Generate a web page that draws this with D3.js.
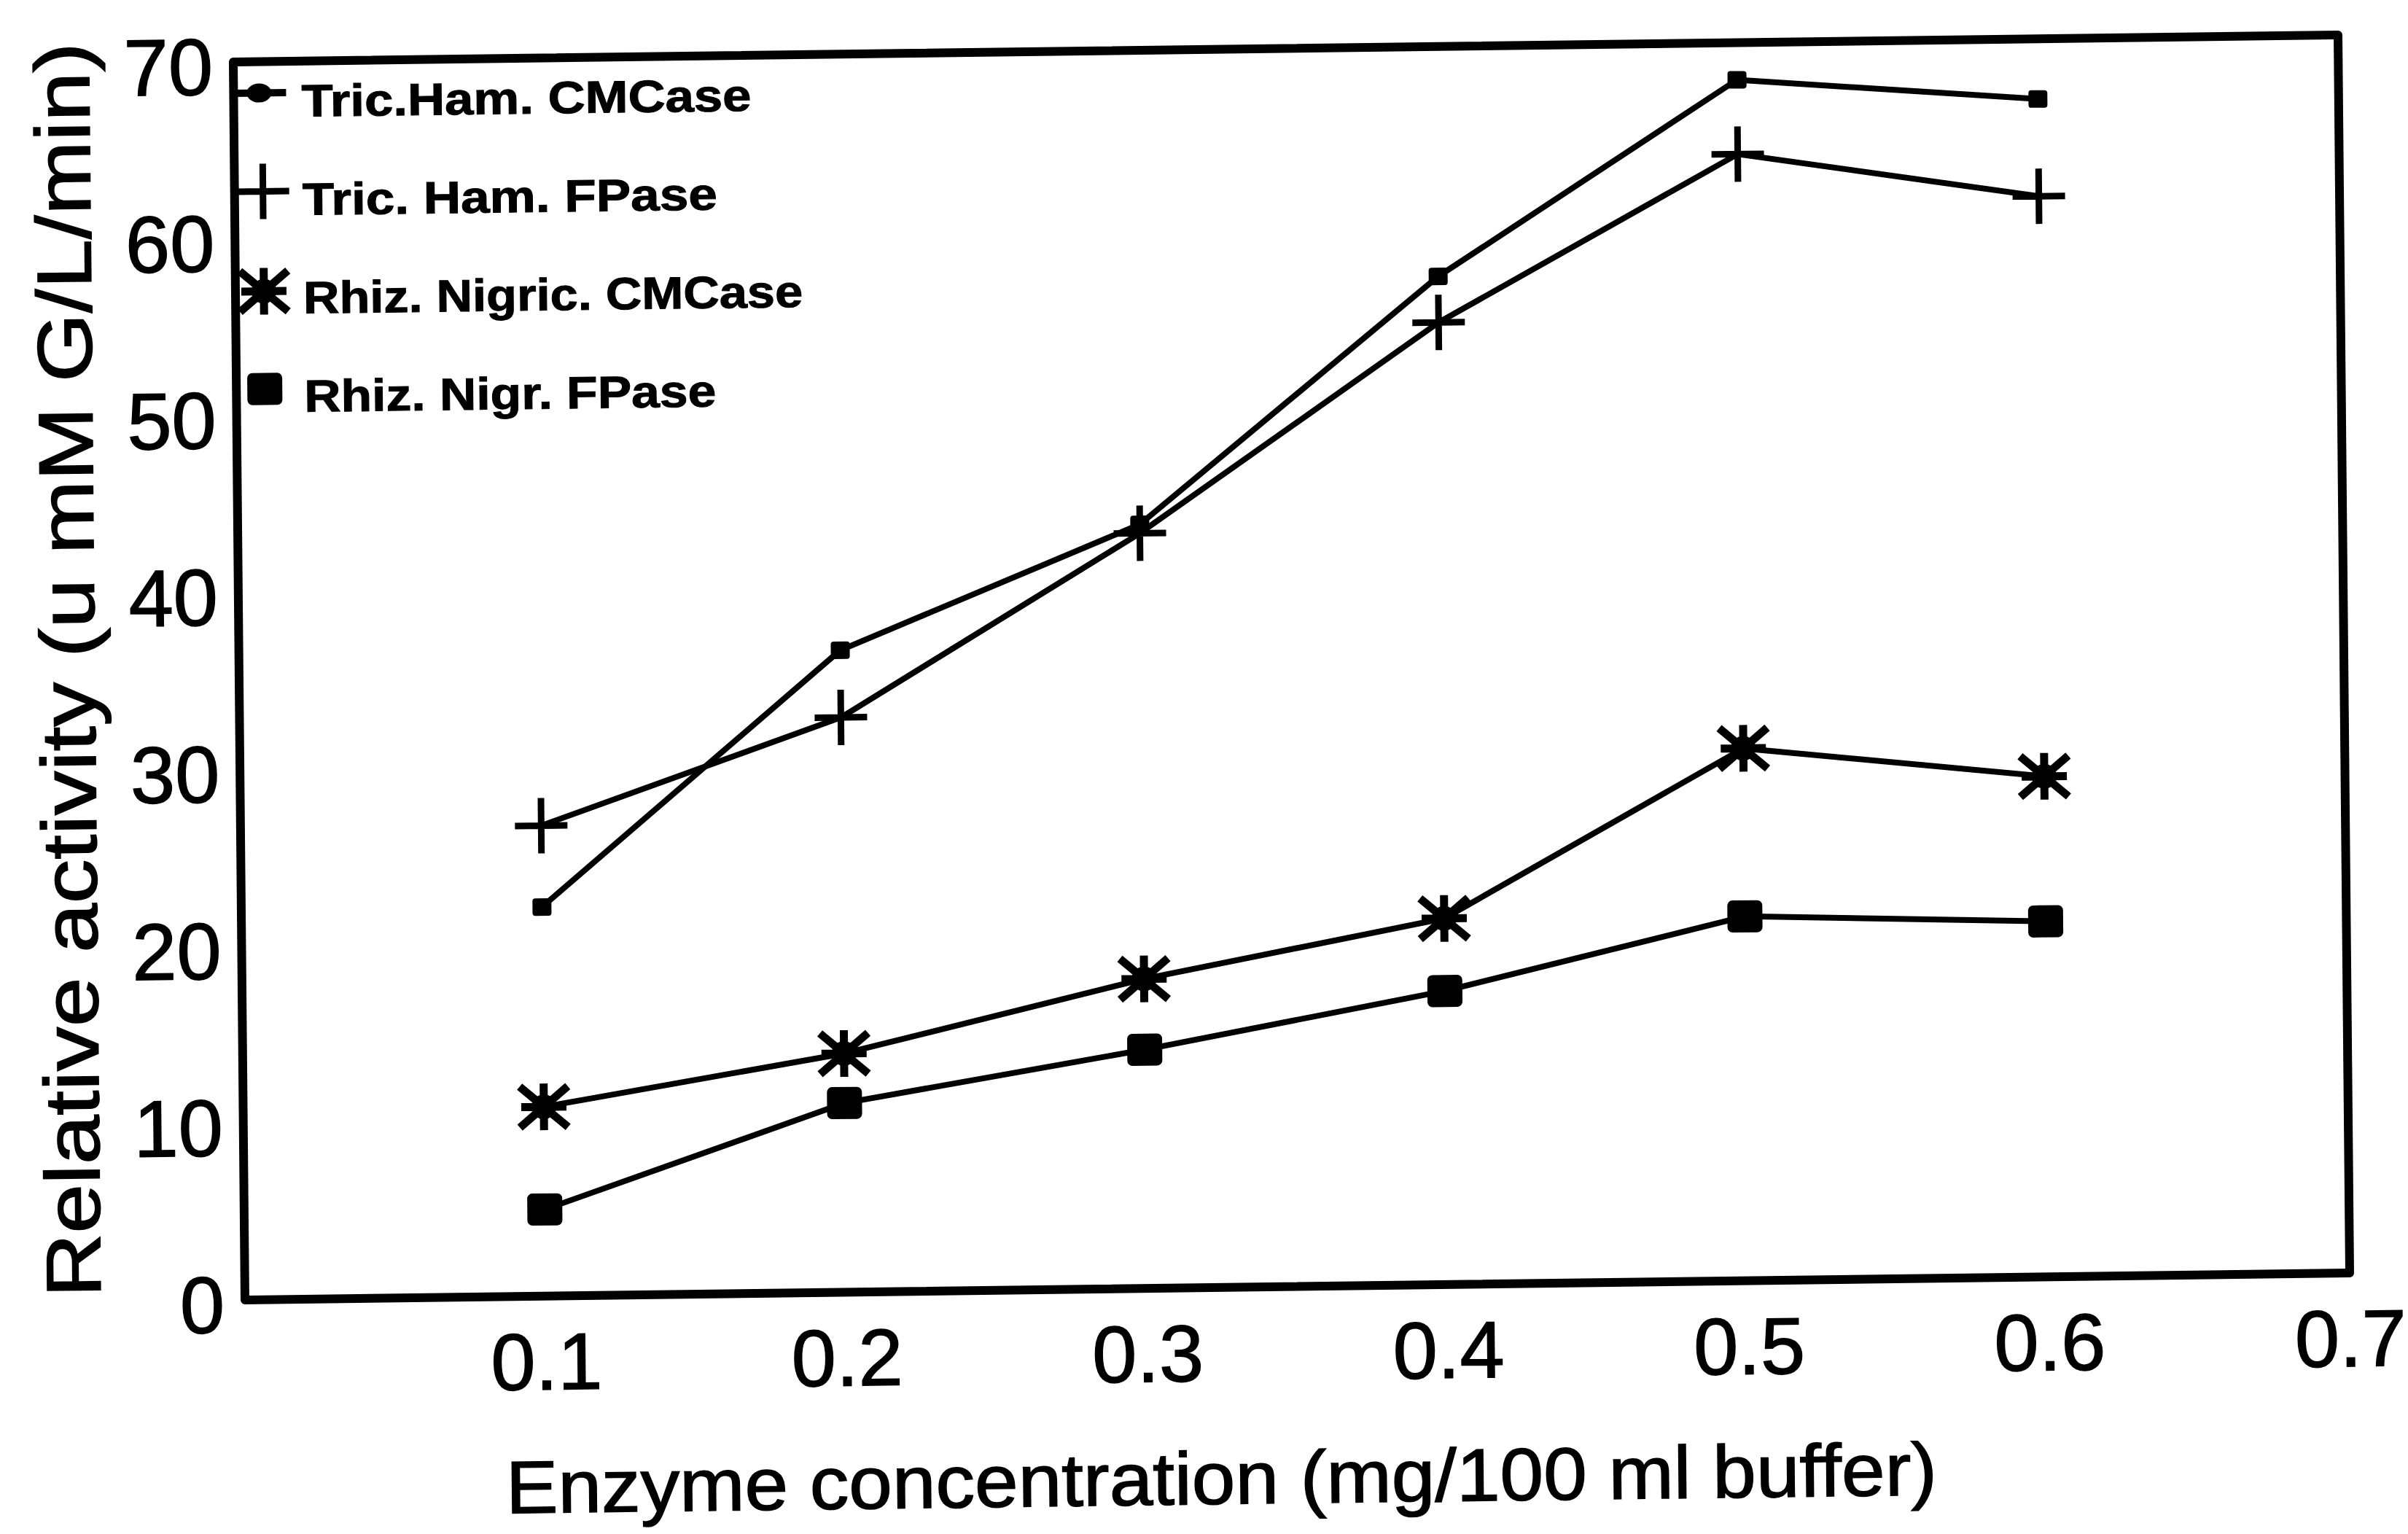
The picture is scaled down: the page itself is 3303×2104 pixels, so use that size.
<!DOCTYPE html>
<html>
<head>
<meta charset="utf-8">
<script src="https://cdn.jsdelivr.net/npm/d3@7/dist/d3.min.js"></script>
<style>
  html, body { margin: 0; padding: 0; background: #ffffff; }
  svg { display: block; }
</style>
</head>
<body>
<svg id="chart" width="3303" height="2104"></svg>
<script>
// ---------------- data ----------------
const concentrations = [0.1, 0.2, 0.3, 0.4, 0.5, 0.6];
const tricHamCMCase  = [22.0, 36.3, 43.2, 57.0, 67.9, 66.6];
const tricHamFPase   = [26.6, 32.5, 42.7, 54.4, 63.7, 61.1];
const rhizNigCMCase  = [10.7, 13.5, 17.5, 20.7, 30.1, 28.3];
const rhizNigFPase   = [4.9, 10.7, 13.5, 16.6, 20.6, 20.1];
const seriesNames = ["Tric.Ham. CMCase", "Tric. Ham. FPase", "Rhiz. Nigric. CMCase", "Rhiz. Nigr. FPase"];
const seriesMarkers = ["smallSquare", "plus", "asterisk", "square"];
const xTickValues = [0.1, 0.2, 0.3, 0.4, 0.5, 0.6, 0.7];
const yTickValues = [0, 10, 20, 30, 40, 50, 60, 70];
const xTitle = "Enzyme concentration (mg/100 ml buffer)";
const yTitle = "Relative activity (u mM G/L/min)";

// ---------------- layout ----------------
const L = 320, R = 3207, T = 85, B = 1783;
const FONT = "'Liberation Sans', Arial, Helvetica, sans-serif";

const svg = d3.select("#chart");
svg.append("rect").attr("width", 3303).attr("height", 2104).attr("fill", "#fff");

// scanned page is slightly rotated/sheared
const g = svg.append("g").attr("transform", "matrix(1,-0.01282,0.00942,1,-0.8,4.1)");

const x = d3.scaleLinear().domain([0, 0.7]).range([L, R]);
const y = d3.scaleLinear().domain([0, 70]).range([B, T]);

// axes (labels only)
const yAxis = g.append("g").attr("transform", `translate(${L},0)`)
  .call(d3.axisLeft(y).tickValues(yTickValues).tickSize(0).tickPadding(28).tickFormat(d3.format("d")));
yAxis.select(".domain").remove();
yAxis.selectAll("text").attr("font-family", FONT).attr("font-size", 110).attr("fill", "#000")
  .attr("stroke", "#000").attr("stroke-width", 1.5).attr("dy", "0.4em");

const xAxis = g.append("g").attr("transform", `translate(0,${B})`)
  .call(d3.axisBottom(x).tickValues(xTickValues).tickSize(0).tickPadding(50).tickFormat(d3.format(".1f")));
xAxis.select(".domain").remove();
xAxis.selectAll("text").attr("font-family", FONT).attr("font-size", 110).attr("fill", "#000")
  .attr("stroke", "#000").attr("stroke-width", 1.5);

// frame
g.append("rect")
  .attr("x", x(0)).attr("y", y(70))
  .attr("width", x(0.7) - x(0)).attr("height", y(0) - y(70))
  .attr("fill", "none").attr("stroke", "#000").attr("stroke-width", 12)
  .attr("stroke-linejoin", "round");

// titles
g.append("text")
  .attr("x", 1657).attr("y", 2080)
  .attr("text-anchor", "middle")
  .attr("font-family", FONT).attr("font-size", 102).attr("fill", "#000")
  .attr("stroke", "#000").attr("stroke-width", 1.5)
  .attr("textLength", 1963).attr("lengthAdjust", "spacingAndGlyphs")
  .text(xTitle);

g.append("text")
  .attr("transform", "translate(122,916) rotate(-90)")
  .attr("text-anchor", "middle")
  .attr("font-family", FONT).attr("font-size", 106).attr("fill", "#000")
  .attr("stroke", "#000").attr("stroke-width", 1.5)
  .attr("textLength", 1721).attr("lengthAdjust", "spacingAndGlyphs")
  .text(yTitle);

// markers
function drawMarker(sel, type, cx, cy) {
  const m = sel.append("g").attr("transform", `translate(${cx},${cy})`);
  if (type === "smallSquare") {
    m.append("rect").attr("x", -13).attr("y", -12).attr("width", 26).attr("height", 24)
      .attr("rx", 4).attr("fill", "#000");
  } else if (type === "plus") {
    m.append("path").attr("d", "M-36,0H36M0,-38V38")
      .attr("stroke", "#000").attr("stroke-width", 9).attr("fill", "none");
  } else if (type === "asterisk") {
    m.append("path").attr("d", "M0,-32V32M-33,-28L33,28M-33,28L33,-28M-31,0H31")
      .attr("stroke", "#000").attr("stroke-width", 11).attr("fill", "none");
    m.append("circle").attr("r", 17).attr("fill", "#000");
  } else if (type === "square") {
    m.append("rect").attr("x", -24).attr("y", -22).attr("width", 48).attr("height", 44)
      .attr("rx", 7).attr("fill", "#000");
  }
}

const allSeries = [tricHamCMCase, tricHamFPase, rhizNigCMCase, rhizNigFPase];
const line = d3.line().x(d => x(d[0])).y(d => y(d[1]));

allSeries.forEach((vals, i) => {
  const pts = concentrations.map((c, k) => [c, vals[k]]);
  g.append("path").datum(pts)
    .attr("d", line).attr("fill", "none").attr("stroke", "#000")
    .attr("stroke-width", 8).attr("stroke-linejoin", "round");
  const mg = g.append("g");
  pts.forEach(p => drawMarker(mg, seriesMarkers[i], x(p[0]), y(p[1])));
});

// legend
const legendMarkerY = [128, 263, 400, 534];
const legendTextY = [161, 296, 431, 566];
const legendTextW = [617, 569, 685, 565];
const lg = g.append("g");
seriesNames.forEach((name, i) => {
  if (i === 0) {
    lg.append("line").attr("x1", L).attr("x2", 392)
      .attr("y1", legendMarkerY[i]).attr("y2", legendMarkerY[i])
      .attr("stroke", "#000").attr("stroke-width", 10);
    lg.append("ellipse").attr("cx", 355).attr("cy", legendMarkerY[i])
      .attr("rx", 17).attr("ry", 13).attr("fill", "#000");
  } else {
    drawMarker(lg, seriesMarkers[i], 359, legendMarkerY[i]);
  }
  lg.append("text")
    .attr("x", 413).attr("y", legendTextY[i])
    .attr("font-family", FONT).attr("font-weight", "bold").attr("font-size", 62)
    .attr("fill", "#000").attr("stroke", "#000").attr("stroke-width", 1)
    .attr("textLength", legendTextW[i]).attr("lengthAdjust", "spacingAndGlyphs")
    .text(name);
});
</script>
</body>
</html>
